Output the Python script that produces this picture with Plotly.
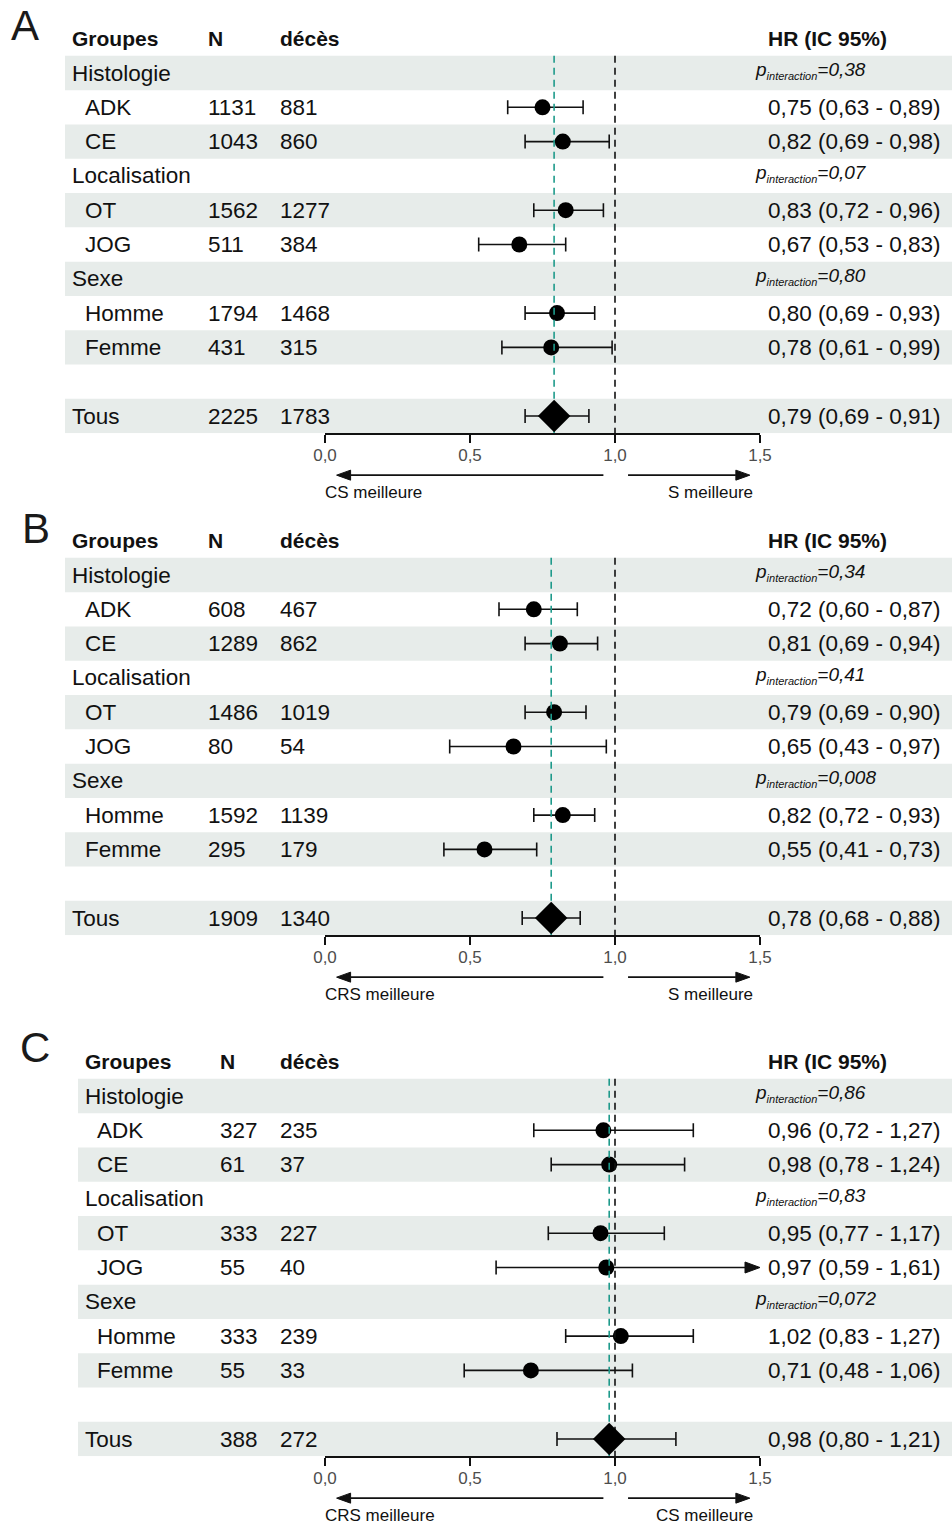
import plotly.graph_objects as go

W, H = 952, 1524

# ---------------- data ----------------
groups = ["Histologie", "Localisation", "Sexe"]
subgroups = ["ADK", "CE", "OT", "JOG", "Homme", "Femme"]

# Panel A
a_n = [1131, 1043, 1562, 511, 1794, 431]
a_deaths = [881, 860, 1277, 384, 1468, 315]
a_hr = [0.75, 0.82, 0.83, 0.67, 0.80, 0.78]
a_lo = [0.63, 0.69, 0.72, 0.53, 0.69, 0.61]
a_hi = [0.89, 0.98, 0.96, 0.83, 0.93, 0.99]
a_p = ["0,38", "0,07", "0,80"]
a_total_n, a_total_deaths = 2225, 1783
a_total_hr, a_total_lo, a_total_hi = 0.79, 0.69, 0.91
a_labels = ["CS meilleure", "S meilleure"]

# Panel B
b_n = [608, 1289, 1486, 80, 1592, 295]
b_deaths = [467, 862, 1019, 54, 1139, 179]
b_hr = [0.72, 0.81, 0.79, 0.65, 0.82, 0.55]
b_lo = [0.60, 0.69, 0.69, 0.43, 0.72, 0.41]
b_hi = [0.87, 0.94, 0.90, 0.97, 0.93, 0.73]
b_p = ["0,34", "0,41", "0,008"]
b_total_n, b_total_deaths = 1909, 1340
b_total_hr, b_total_lo, b_total_hi = 0.78, 0.68, 0.88
b_labels = ["CRS meilleure", "S meilleure"]

# Panel C
c_n = [327, 61, 333, 55, 333, 55]
c_deaths = [235, 37, 227, 40, 239, 33]
c_hr = [0.96, 0.98, 0.95, 0.97, 1.02, 0.71]
c_lo = [0.72, 0.78, 0.77, 0.59, 0.83, 0.48]
c_hi = [1.27, 1.24, 1.17, 1.61, 1.27, 1.06]
c_p = ["0,86", "0,83", "0,072"]
c_total_n, c_total_deaths = 388, 272
c_total_hr, c_total_lo, c_total_hi = 0.98, 0.80, 1.21
c_labels = ["CRS meilleure", "CS meilleure"]

x_ticks = [0, 0.5, 1.0, 1.5]
x_range = [0, 1.5]

panels = [
    dict(letter="A", n=a_n, d=a_deaths, hr=a_hr, lo=a_lo, hi=a_hi, p=a_p,
         tn=a_total_n, td=a_total_deaths, thr=a_total_hr, tlo=a_total_lo, thi=a_total_hi,
         labels=a_labels),
    dict(letter="B", n=b_n, d=b_deaths, hr=b_hr, lo=b_lo, hi=b_hi, p=b_p,
         tn=b_total_n, td=b_total_deaths, thr=b_total_hr, tlo=b_total_lo, thi=b_total_hi,
         labels=b_labels),
    dict(letter="C", n=c_n, d=c_deaths, hr=c_hr, lo=c_lo, hi=c_hi, p=c_p,
         tn=c_total_n, td=c_total_deaths, thr=c_total_hr, tlo=c_total_lo, thi=c_total_hi,
         labels=c_labels),
]

# ---------------- layout geometry (pixels) ----------------
geo = [
    dict(first=73, letter_xy=(25, 25), stripe=65, grp=72, sub=85, ncol=208, dcol=280),
    dict(first=575, letter_xy=(36, 528), stripe=65, grp=72, sub=85, ncol=208, dcol=280),
    dict(first=1096, letter_xy=(35, 1047), stripe=78, grp=85, sub=97, ncol=220, dcol=280),
]
STEP = 34.3
HR_COL = 768
P_COL = 755
X0_PX, X1_PX = 325, 760

FONT = "Liberation Sans, Arial, Helvetica, sans-serif"
TXT = "#111111"
STRIPE = "#E7ECEA"
TEAL = "#1E9A8B"
FS = 22.5


def px_x(px):
    return px / W


def px_y(px):
    return 1 - px / H


def fmt(v):
    return f"{v:.2f}".replace(".", ",")


def ann(**kw):
    d = dict(showarrow=False, borderpad=0, borderwidth=0)
    d.update(kw)
    return d


fig = go.Figure()
shapes = []
annotations = []
layout_axes = {}

for k, (pn, g) in enumerate(zip(panels, geo), start=1):
    xa = "x" if k == 1 else f"x{k}"
    ya = "y" if k == 1 else f"y{k}"
    xkey = "xaxis" if k == 1 else f"xaxis{k}"
    ykey = "yaxis" if k == 1 else f"yaxis{k}"

    top_px = g["first"] - 1.5 * STEP
    bot_px = g["first"] + 10.5 * STEP
    axis_px = bot_px

    layout_axes[ykey] = dict(domain=[px_y(bot_px), px_y(top_px)], range=[11.5, -0.5],
                             visible=False, fixedrange=True)
    layout_axes[xkey] = dict(domain=[px_x(X0_PX), px_x(X1_PX)], range=x_range, anchor=ya,
                             tickvals=x_ticks, tickformat=".1f", showline=True,
                             linecolor=TXT, linewidth=1.5, ticks="outside", ticklen=8,
                             tickwidth=1.5, tickcolor=TXT, showgrid=False, zeroline=False,
                             tickfont=dict(size=17, color="#4D4D4D", family=FONT),
                             ticklabelstandoff=-2, fixedrange=True, automargin=False)

    rows = []
    si = 0
    for gi, gname in enumerate(groups):
        rows.append(("group", gname, gi))
        for _ in range(2):
            rows.append(("sub", subgroups[si], si))
            si += 1
    rows.append(("blank", None, None))
    rows.append(("total", "Tous", None))

    for r in range(1, 12, 2):
        shapes.append(dict(type="rect", xref="paper", yref=ya, x0=px_x(g["stripe"]), x1=1,
                           y0=r - 0.5, y1=r + 0.5, fillcolor=STRIPE, line=dict(width=0),
                           layer="below"))

    for txt, xp in [("Groupes", g["grp"]), ("N", g["ncol"]), ("décès", g["dcol"]),
                    ("HR (IC 95%)", HR_COL)]:
        annotations.append(ann(text=f"<b>{txt}</b>", xref="paper", yref=ya, x=px_x(xp), y=0,
                               xanchor="left", yanchor="middle",
                               font=dict(size=21, color=TXT, family=FONT)))

    ci_x, ci_y, cap_x, cap_y, pt_x, pt_y = [], [], [], [], [], []
    for ri, (kind, label, idx) in enumerate(rows, start=1):
        if kind == "group":
            annotations.append(ann(text=label, xref="paper", yref=ya, x=px_x(g["grp"]), y=ri,
                                   xanchor="left", yanchor="middle",
                                   font=dict(size=FS, color=TXT, family=FONT)))
            annotations.append(ann(
                text=(f"<i>p</i><sub><span style='font-size:11px'><i>interaction</i></span></sub>"
                      f"<i>={pn['p'][idx]}</i>"),
                xref="paper", yref=ya, x=px_x(P_COL), y=ri - 0.08, xanchor="left",
                yanchor="middle", font=dict(size=19, color=TXT, family=FONT)))
        elif kind in ("sub", "total"):
            if kind == "sub":
                nn, dd, hr, lo, hi = pn["n"][idx], pn["d"][idx], pn["hr"][idx], pn["lo"][idx], pn["hi"][idx]
                lx = g["sub"]
            else:
                nn, dd, hr, lo, hi = pn["tn"], pn["td"], pn["thr"], pn["tlo"], pn["thi"]
                lx = g["grp"]
            for txt, xp in [(label, lx), (str(nn), g["ncol"]), (str(dd), g["dcol"]),
                            (f"{fmt(hr)} ({fmt(lo)} - {fmt(hi)})", HR_COL)]:
                annotations.append(ann(text=txt, xref="paper", yref=ya, x=px_x(xp), y=ri,
                                       xanchor="left", yanchor="middle",
                                       font=dict(size=FS, color=TXT, family=FONT)))
            clipped = hi > x_range[1]
            head_len = 15 / (X1_PX - X0_PX) * (x_range[1] - x_range[0])
            ci_x += [lo, (x_range[1] - head_len) if clipped else hi, None]
            ci_y += [ri, ri, None]
            cap_x.append(lo)
            cap_y.append(ri)
            if clipped:
                hh = 5.5 / STEP
                shapes.append(dict(type="path", xref=xa, yref=ya,
                                   path=f"M {x_range[1] - head_len},{ri - hh} L {x_range[1]},{ri} "
                                        f"L {x_range[1] - head_len},{ri + hh} Z",
                                   fillcolor=TXT, line=dict(color=TXT, width=1)))
            else:
                cap_x.append(hi)
                cap_y.append(ri)
            if kind == "sub":
                pt_x.append(hr)
                pt_y.append(ri)

    fig.add_trace(go.Scatter(x=ci_x, y=ci_y, mode="lines", line=dict(color=TXT, width=1.6),
                             xaxis=xa, yaxis=ya, hoverinfo="skip", showlegend=False))
    fig.add_trace(go.Scatter(x=cap_x, y=cap_y, mode="markers",
                             marker=dict(symbol="line-ns", size=10, line=dict(color=TXT, width=1.6)),
                             xaxis=xa, yaxis=ya, hoverinfo="skip", showlegend=False))
    fig.add_trace(go.Scatter(x=pt_x, y=pt_y, mode="markers",
                             marker=dict(symbol="circle", size=16, color="#000000"),
                             xaxis=xa, yaxis=ya, showlegend=False))
    fig.add_trace(go.Scatter(x=[1.0, 1.0], y=[0.5, 11.5], mode="lines",
                             line=dict(color=TXT, width=1.6, dash="7px,5px"),
                             xaxis=xa, yaxis=ya, hoverinfo="skip", showlegend=False))
    fig.add_trace(go.Scatter(x=[pn["thr"], pn["thr"]], y=[0.5, 11.5], mode="lines",
                             line=dict(color=TEAL, width=1.6, dash="7px,5px"),
                             xaxis=xa, yaxis=ya, hoverinfo="skip", showlegend=False))
    fig.add_trace(go.Scatter(x=[pn["thr"]], y=[11], mode="markers",
                             marker=dict(symbol="diamond", size=25, color="#000000"),
                             xaxis=xa, yaxis=ya, showlegend=False))

    lx_, ly_ = g["letter_xy"]
    annotations.append(ann(text=pn["letter"], xref="paper", yref="paper", x=px_x(lx_),
                           y=px_y(ly_), xanchor="center", yanchor="middle",
                           font=dict(size=42, color="#1a1a1a", family=FONT)))

    arr_y = px_y(axis_px + 42)
    hl = 14 / (X1_PX - X0_PX) * 1.5
    hv = 5 / H
    left_tail, left_tip = 0.96, 0.04
    right_tail, right_tip = 1.045, 1.465
    shapes.append(dict(type="line", xref=xa, yref="paper", x0=left_tail, x1=left_tip + hl,
                       y0=arr_y, y1=arr_y, line=dict(color=TXT, width=1.6)))
    shapes.append(dict(type="path", xref=xa, yref="paper",
                       path=f"M {left_tip},{arr_y} L {left_tip + hl},{arr_y + hv} L {left_tip + hl},{arr_y - hv} Z",
                       fillcolor=TXT, line=dict(color=TXT, width=1)))
    shapes.append(dict(type="line", xref=xa, yref="paper", x0=right_tail, x1=right_tip - hl,
                       y0=arr_y, y1=arr_y, line=dict(color=TXT, width=1.6)))
    shapes.append(dict(type="path", xref=xa, yref="paper",
                       path=f"M {right_tip},{arr_y} L {right_tip - hl},{arr_y + hv} L {right_tip - hl},{arr_y - hv} Z",
                       fillcolor=TXT, line=dict(color=TXT, width=1)))
    lab_y = px_y(axis_px + 59)
    annotations.append(ann(text=pn["labels"][0], xref=xa, yref="paper", x=0.0, y=lab_y,
                           xanchor="left", yanchor="middle",
                           font=dict(size=17, color=TXT, family=FONT)))
    annotations.append(ann(text=pn["labels"][1], xref=xa, yref="paper", x=1.476, y=lab_y,
                           xanchor="right", yanchor="middle",
                           font=dict(size=17, color=TXT, family=FONT)))

fig.update_layout(
    width=W, height=H, autosize=False,
    margin=dict(l=0, r=0, t=0, b=0, pad=0),
    paper_bgcolor="white", plot_bgcolor="rgba(0,0,0,0)",
    separators=", ",
    shapes=shapes, annotations=annotations,
    font=dict(family=FONT, color=TXT),
    showlegend=False,
    **layout_axes,
)

fig.write_html(
    "out.html",
    config={"displayModeBar": False},
    post_script="document.body.style.margin='0';document.body.style.padding='0';"
                "document.body.style.overflow='hidden';"
                "document.documentElement.style.overflow='hidden';",
)
